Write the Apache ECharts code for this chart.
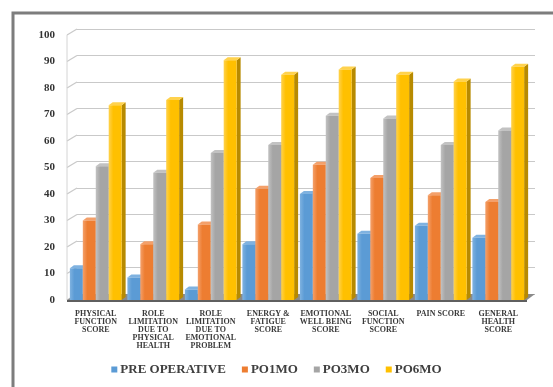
<!DOCTYPE html>
<html>
<head>
<meta charset="utf-8">
<script src="https://cdn.jsdelivr.net/npm/echarts@6/dist/echarts.min.js"></script>
<style>
  html, body { margin: 0; padding: 0; background: #fff; }
  #chart { width: 553px; height: 387px; }
</style>
</head>
<body>
<div id="chart"></div>
<script>
// Quality-of-life domain scores at each follow-up point
const categories = [
  'PHYSICAL\nFUNCTION\nSCORE',
  'ROLE\nLIMITATION\nDUE TO\nPHYSICAL\nHEALTH',
  'ROLE\nLIMITATION\nDUE TO\nEMOTIONAL\nPROBLEM',
  'ENERGY &\nFATIGUE\nSCORE',
  'EMOTIONAL\nWELL BEING\nSCORE',
  'SOCIAL\nFUNCTION\nSCORE',
  'PAIN SCORE',
  'GENERAL\nHEALTH\nSCORE'
];
const seriesNames = ['PRE OPERATIVE', 'PO1MO', 'PO3MO', 'PO6MO'];
const preOperative = [12, 8.5, 4, 21, 40, 25, 28, 23.5];
const po1mo = [30, 21, 28.5, 42, 51, 46, 39.5, 37];
const po3mo = [50.5, 48, 55.5, 58.5, 69.5, 68.5, 58.5, 64];
const po6mo = [73.5, 75.5, 90.5, 85, 87, 85, 82.5, 88];
const yTicks = [0, 10, 20, 30, 40, 50, 60, 70, 80, 90, 100];

const seriesValues = [preOperative, po1mo, po3mo, po6mo];
// face colours: front, side (shaded), top
const palette = [
  { front: '#5b9bd5', side: '#3f78b0', top: '#7fb2e0' },
  { front: '#ed7d31', side: '#b85d1d', top: '#f4a06a' },
  { front: '#a5a5a5', side: '#7b7b7b', top: '#c2c2c2' },
  { front: '#ffc000', side: '#b78a00', top: '#ffd24d' }
];

const DEPTH_X = 4, DEPTH_Y = -3;   // oblique depth of each box
const GROUP_FILL = 0.9;            // share of a category band taken by the group

function boxRenderer(seriesIdx) {
  return function (params, api) {
    const cat = api.value(0);
    const val = api.value(1);
    const band = api.size([1, 0])[0];
    const slot = band * GROUP_FILL / 4;
    const top = api.coord([cat, val]);
    const base = api.coord([cat, 0]);
    const x0 = top[0] - band * GROUP_FILL / 2 + slot * seriesIdx;
    const w = slot;
    const yTop = top[1];
    const yBase = base[1];
    const c = palette[seriesIdx];
    return {
      type: 'group',
      children: [
        { // right side face
          type: 'polygon',
          shape: { points: [[x0 + w, yBase], [x0 + w + DEPTH_X, yBase + DEPTH_Y],
                            [x0 + w + DEPTH_X, yTop + DEPTH_Y], [x0 + w, yTop]] },
          style: { fill: c.side }
        },
        { // top face
          type: 'polygon',
          shape: { points: [[x0, yTop], [x0 + DEPTH_X, yTop + DEPTH_Y],
                            [x0 + w + DEPTH_X, yTop + DEPTH_Y], [x0 + w, yTop]] },
          style: { fill: c.top }
        },
        { // front face
          type: 'rect',
          shape: { x: x0, y: yTop, width: w, height: yBase - yTop },
          style: {
            fill: new echarts.graphic.LinearGradient(0, 0, 1, 0, [
              { offset: 0, color: c.top },
              { offset: 0.35, color: c.front },
              { offset: 1, color: c.front }
            ])
          }
        }
      ]
    };
  };
}

const chart = echarts.init(document.getElementById('chart'), null, { renderer: 'canvas' });

const frontGrid = { left: 67, right: 26, top: 35, bottom: 87 };
const backGrid = { left: 77, right: 18, top: 29, bottom: 93 };

const option = {
  animation: false,
  backgroundColor: '#ffffff',
  grid: [frontGrid, backGrid],
  legend: {
    data: seriesNames.map((n, i) => ({ name: n, itemStyle: { color: palette[i].front } })),
    bottom: 6,
    left: 'center',
    itemWidth: 6,
    itemHeight: 6,
    itemGap: 16,
    icon: 'rect',
    textStyle: { fontFamily: 'Liberation Serif', fontSize: 13, fontWeight: 'bold', color: '#404040', padding: [0, 0, 0, -2] }
  },
  xAxis: [
    {
      type: 'category', gridIndex: 0, data: categories,
      axisLine: { show: false }, axisTick: { show: false },
      axisLabel: {
        interval: 0, margin: 10, lineHeight: 8,
        fontFamily: 'Liberation Serif', fontWeight: 'bold', fontSize: 8, color: '#3a3a3a'
      }
    },
    {
      type: 'category', gridIndex: 1, data: categories,
      axisLine: { show: false }, axisTick: { show: false }, axisLabel: { show: false }
    }
  ],
  yAxis: [
    {
      type: 'value', gridIndex: 0, min: 0, max: 100, interval: 10,
      axisLine: { show: false }, axisTick: { show: false }, splitLine: { show: false },
      axisLabel: {
        margin: 12, fontFamily: 'Liberation Serif', fontWeight: 'bold', fontSize: 11, color: '#333',
        formatter: v => (yTicks.includes(v) ? String(v) : '')
      }
    },
    {
      type: 'value', gridIndex: 1, min: 0, max: 100, interval: 10,
      axisLine: { show: false }, axisTick: { show: false }, axisLabel: { show: false },
      splitLine: { lineStyle: { color: '#c9c9c9', width: 1.2 } }
    }
  ],
  series: seriesNames.map((name, i) => ({
    name,
    type: 'custom',
    xAxisIndex: 0,
    yAxisIndex: 0,
    renderItem: boxRenderer(i),
    encode: { x: 0, y: 1 },
    data: seriesValues[i].map((v, k) => [k, v]),
    z: 3
  }))
};

chart.setOption(option);

// Side wall, floor and outer frame, placed from the axes' own pixel mapping
function drawDecor() {
  const g = [];
  const f0 = chart.convertToPixel({ gridIndex: 0 }, [0, 0]);
  const b0 = chart.convertToPixel({ gridIndex: 1 }, [0, 0]);
  const band0 = chart.getModel().getComponent('xAxis', 0).axis.getBandWidth();
  const band1 = chart.getModel().getComponent('xAxis', 1).axis.getBandWidth();
  const frontLeft = f0[0] - band0 / 2;
  const backLeft = b0[0] - band1 / 2;
  const frontRight = frontLeft + band0 * categories.length;
  const backRight = backLeft + band1 * categories.length;
  yTicks.forEach(t => {
    const yf = chart.convertToPixel({ gridIndex: 0 }, [0, t])[1];
    const yb = chart.convertToPixel({ gridIndex: 1 }, [0, t])[1];
    g.push({ type: 'line', shape: { x1: frontLeft, y1: yf, x2: backLeft, y2: yb },
      style: { stroke: '#c9c9c9', lineWidth: 1.2 }, z: 1 });
  });
  const yTopF = chart.convertToPixel({ gridIndex: 0 }, [0, 100])[1];
  g.push({ type: 'line', shape: { x1: frontLeft, y1: yTopF, x2: frontLeft, y2: f0[1] },
    style: { stroke: '#d4d4d4', lineWidth: 1 }, z: 1 });
  // floor slab
  g.push({ type: 'polygon', shape: { points: [[frontLeft, f0[1]], [backLeft, b0[1]],
      [backRight, b0[1]], [frontRight, f0[1]]] },
    style: { fill: '#8a8a8a' }, z: 2 });
  g.push({ type: 'rect', shape: { x: frontLeft, y: f0[1], width: frontRight - frontLeft, height: 2 },
    style: { fill: '#5f5f5f' }, z: 2 });
  // outer frame
  g.push({ type: 'rect', shape: { x: 13, y: 13, width: 560, height: 400 },
    style: { fill: 'none', stroke: '#7d7d7d', lineWidth: 3 }, z: 0 });
  chart.setOption({ graphic: g });
}
drawDecor();
</script>
</body>
</html>
